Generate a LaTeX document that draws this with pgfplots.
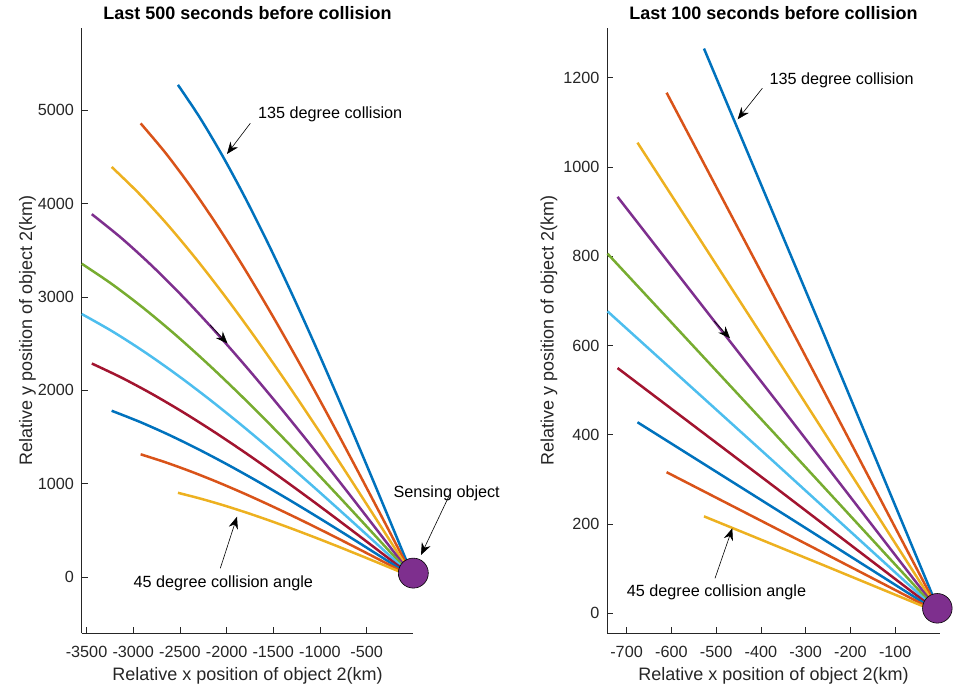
\documentclass[border=0pt]{standalone}
\usepackage{fontspec}
\setmainfont{Liberation Sans}
\usepackage{pgfplots}
\pgfplotsset{compat=1.18}
\usetikzlibrary{arrows.meta}
\definecolor{c1}{rgb}{0,0.447,0.741}
\definecolor{c2}{rgb}{0.85,0.325,0.098}
\definecolor{c3}{rgb}{0.929,0.694,0.125}
\definecolor{c4}{rgb}{0.494,0.184,0.556}
\definecolor{c5}{rgb}{0.466,0.674,0.188}
\definecolor{c6}{rgb}{0.301,0.745,0.933}
\definecolor{c7}{rgb}{0.635,0.078,0.184}
\definecolor{axgray}{rgb}{0.15,0.15,0.15}
\pgfkeys{/pgf/number format/.cd,1000 sep={},assume math mode=true}
\pgfplotsset{
  mystyle/.style={
    scale only axis, axis x line*=bottom, axis y line*=left,
    tick align=inside, major tick length=6pt, scaled ticks=false, clip=false,
    axis line style={draw=axgray, line width=0.8pt},
    major tick style={draw=axgray, line width=0.8pt},
    tick label style={font=\fontsize{16.2}{19}\selectfont, text=axgray},
    xticklabel style={anchor=north, inner sep=0pt, yshift=-12.7pt},
    yticklabel style={anchor=east, inner sep=0pt, xshift=-7.7pt},
    every axis plot/.append style={line width=2.5pt, line join=round},
  }
}
\tikzset{annarrow/.style={draw=black, line width=0.6pt, -{Stealth[length=12pt,width=9.5pt,inset=4pt]}}}
\newcommand{\annfont}{\fontsize{16.2}{19}\selectfont}
\newcommand{\labfont}{\fontsize{18}{21}\selectfont}
\begin{document}
\begin{tikzpicture}
\path[use as bounding box] (0,0) rectangle (957pt,685pt);
% ---------------- left axis ----------------
\begin{axis}[mystyle,
  at={(81.7pt,51.7pt)}, anchor=south west,
  width=331.6pt, height=605pt,
  xmin=-3552, xmax=0, ymin=-599, ymax=5874,
  xtick={-3500,-3000,-2500,-2000,-1500,-1000,-500},
  ytick={0,1000,2000,3000,4000,5000}]
\addplot[c1, smooth] coordinates {(0,0) (-263.9,636.3) (-527.1,1265.6) (-788.8,1881.0) (-1048.4,2475.7) (-1305.1,3043.2) (-1558.2,3577.4) (-1807.1,4072.1) (-2050.9,4522.1) (-2289.1,4922.5) (-2521.1,5268.8)};
\addplot[c2, smooth] coordinates {(0,0) (-305.8,586.5) (-610.6,1166.6) (-913.8,1733.8) (-1214.6,2282.0) (-1511.9,2805.2) (-1805.2,3297.5) (-2093.4,3753.6) (-2375.9,4168.4) (-2651.8,4537.5) (-2920.6,4856.7)};
\addplot[c3, smooth] coordinates {(0,0) (-338.3,530.3) (-675.6,1054.7) (-1011.1,1567.5) (-1343.8,2063.1) (-1672.8,2536.1) (-1997.2,2981.2) (-2316.2,3393.5) (-2628.7,3768.5) (-2934.0,4102.2) (-3231.3,4390.8)};
\addplot[c4, smooth] coordinates {(0,0) (-360.5,469.2) (-720.1,933.2) (-1077.6,1387.0) (-1432.2,1825.6) (-1782.8,2244.1) (-2128.6,2637.9) (-2468.5,3002.8) (-2801.6,3334.6) (-3127.0,3629.9) (-3443.8,3885.2)};
\addplot[c5, smooth] coordinates {(0,0) (-371.8,405.2) (-742.6,806.0) (-1111.3,1197.9) (-1477.1,1576.6) (-1838.7,1938.1) (-2195.3,2278.2) (-2545.9,2593.3) (-2889.4,2879.9) (-3225.0,3134.9) (-3551.8,3355.4)};
\addplot[c6, smooth] coordinates {(0,0) (-371.8,340.2) (-742.6,676.7) (-1111.3,1005.8) (-1477.1,1323.8) (-1838.7,1627.3) (-2195.3,1912.9) (-2545.9,2177.4) (-2889.4,2418.1) (-3225.0,2632.2) (-3551.8,2817.4)};
\addplot[c7, smooth] coordinates {(0,0) (-360.5,276.3) (-720.1,549.5) (-1077.6,816.7) (-1432.2,1074.9) (-1782.8,1321.3) (-2128.6,1553.2) (-2468.5,1768.0) (-2801.6,1963.4) (-3127.0,2137.2) (-3443.8,2287.6)};
\addplot[c1, smooth] coordinates {(0,0) (-338.3,215.2) (-675.6,428.0) (-1011.1,636.2) (-1343.8,837.3) (-1672.8,1029.3) (-1997.2,1209.9) (-2316.2,1377.3) (-2628.7,1529.5) (-2934.0,1664.9) (-3231.3,1782.0)};
\addplot[c2, smooth] coordinates {(0,0) (-305.8,158.9) (-610.6,316.1) (-913.8,469.9) (-1214.6,618.4) (-1511.9,760.2) (-1805.2,893.6) (-2093.4,1017.2) (-2375.9,1129.6) (-2651.8,1229.6) (-2920.6,1316.1)};
\addplot[c3, smooth] coordinates {(0,0) (-263.9,109.2) (-527.1,217.1) (-788.8,322.7) (-1048.4,424.8) (-1305.1,522.1) (-1558.2,613.8) (-1807.1,698.7) (-2050.9,775.9) (-2289.1,844.6) (-2521.1,904.0)};
\addplot[only marks, mark=*, mark size=15pt, mark options={fill=c4, draw=black, line width=0.6pt}] coordinates {(0,45)};
\end{axis}
% ---------------- right axis ----------------
\begin{axis}[mystyle,
  at={(607.3pt,51.7pt)}, anchor=south west,
  width=332.7pt, height=605pt,
  xmin=-743, xmax=0, ymin=-45, ymax=1311,
  xtick={-700,-600,-500,-400,-300,-200,-100},
  ytick={0,200,400,600,800,1000,1200}]
\addplot[c1] coordinates {(0,0) (-263.9,636.3) (-527.1,1265.6)};
\addplot[c2] coordinates {(0,0) (-305.8,586.5) (-610.6,1166.6)};
\addplot[c3] coordinates {(0,0) (-338.3,530.3) (-675.6,1054.7)};
\addplot[c4] coordinates {(0,0) (-360.5,469.2) (-720.1,933.2)};
\addplot[c5] coordinates {(0,0) (-371.8,405.2) (-742.6,806.0)};
\addplot[c6] coordinates {(0,0) (-371.8,340.2) (-742.6,676.7)};
\addplot[c7] coordinates {(0,0) (-360.5,276.3) (-720.1,549.5)};
\addplot[c1] coordinates {(0,0) (-338.3,215.2) (-675.6,428.0)};
\addplot[c2] coordinates {(0,0) (-305.8,158.9) (-610.6,316.1)};
\addplot[c3] coordinates {(0,0) (-263.9,109.2) (-527.1,217.1)};
\addplot[only marks, mark=*, mark size=14.8pt, mark options={fill=c4, draw=black, line width=0.6pt}] coordinates {(-6,11)};
\end{axis}
% ---------------- titles and labels ----------------
\node[anchor=base, font=\labfont\bfseries] at (247.5pt,665pt) {Last 500 seconds before collision};
\node[anchor=base, font=\labfont\bfseries] at (773.5pt,665pt) {Last 100 seconds before collision};
\node[anchor=base, font=\labfont, text=axgray] at (247.5pt,5pt) {Relative x position of object 2(km)};
\node[anchor=base, font=\labfont, text=axgray] at (773.5pt,5pt) {Relative x position of object 2(km)};
\node[anchor=base, rotate=90, font=\labfont, text=axgray] at (32pt,354.2pt) {Relative y position of object 2(km)};
\node[anchor=base, rotate=90, font=\labfont, text=axgray] at (553.5pt,354.2pt) {Relative y position of object 2(km)};
% ---------------- annotations left ----------------
\node[anchor=base west, inner sep=0pt, font=\annfont] at (258pt,566.7pt) {135 degree collision};
\draw[annarrow] (250.3pt,561.7pt) -- (227pt,531pt);
\draw[annarrow] (210pt,360pt) -- (227.5pt,341.5pt);
\node[anchor=base west, inner sep=0pt, font=\annfont] at (133.5pt,97.7pt) {45 degree collision angle};
\draw[annarrow] (220.3pt,116.7pt) -- (237pt,168.3pt);
\node[anchor=base west, inner sep=0pt, font=\annfont] at (393.3pt,187.7pt) {Sensing object};
\draw[annarrow] (449pt,189pt) -- (421pt,130pt);
% ---------------- annotations right ----------------
\node[anchor=base west, inner sep=0pt, font=\annfont] at (769.3pt,600.5pt) {135 degree collision};
\draw[annarrow] (762.3pt,596.7pt) -- (737.7pt,565.7pt);
\draw[annarrow] (714pt,364pt) -- (730pt,346.7pt);
\node[anchor=base west, inner sep=0pt, font=\annfont] at (626.7pt,88.3pt) {45 degree collision angle};
\draw[annarrow] (715pt,106.7pt) -- (732.3pt,156.7pt);
\end{tikzpicture}
\end{document}
